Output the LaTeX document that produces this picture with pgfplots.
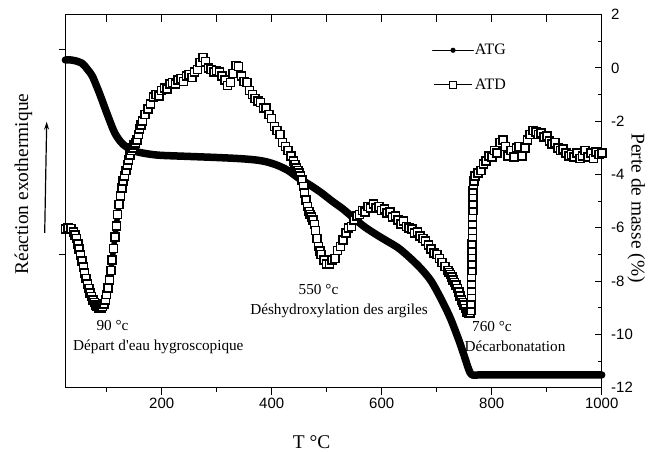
\documentclass[border=0pt]{standalone}
\usepackage{fontspec}
\setmainfont{Liberation Serif}
\setsansfont{Liberation Sans}
\usepackage{pgfplots}
\pgfplotsset{compat=1.18}
\usepackage{pgfplotstable}
\usetikzlibrary{arrows.meta}

\pgfplotstableread{
x y
25 0.30
35 0.30
45 0.26
55 0.18
60 0.08
65 -0.05
70 -0.18
75 -0.35
80 -0.60
85 -0.85
90 -1.12
95 -1.40
100 -1.68
105 -1.95
110 -2.22
115 -2.45
120 -2.62
125 -2.76
130 -2.87
135 -2.95
140 -3.02
150 -3.11
160 -3.17
180 -3.24
200 -3.28
250 -3.32
300 -3.36
340 -3.40
370 -3.45
390 -3.52
410 -3.65
430 -3.85
450 -4.15
470 -4.40
490 -4.68
510 -5.00
530 -5.30
550 -5.65
570 -5.98
590 -6.25
610 -6.50
630 -6.75
650 -7.10
670 -7.50
690 -8.00
710 -8.75
725 -9.40
740 -10.20
750 -10.80
758 -11.30
764 -11.52
780 -11.52
850 -11.52
1000 -11.52
}\atg

\pgfplotstableread{
x y
25 -6.05
30 -6.00
35 -6.02
40 -6.15
42.5 -6.27
45 -6.40
47.5 -6.60
50 -6.80
52.5 -7.02
55 -7.25
57.5 -7.48
60 -7.70
62.5 -7.90
65 -8.10
67.5 -8.28
70 -8.45
72.5 -8.58
75 -8.70
77.5 -8.80
80 -8.90
82.5 -8.95
85 -9.00
87.5 -9.02
90 -9.00
92.5 -8.95
95 -8.85
97.5 -8.70
100 -8.50
102.5 -8.25
105 -7.95
107.5 -7.60
110 -7.20
112.5 -6.78
115 -6.35
117.5 -5.92
120 -5.50
122.5 -5.12
125 -4.80
127.5 -4.50
130 -4.25
132.5 -4.05
135 -3.85
137.5 -3.65
140 -3.45
142.5 -3.27
145 -3.10
147.5 -3.00
150 -2.90
152.5 -2.82
155 -2.70
157.5 -2.50
160 -2.30
162.5 -2.15
165 -2.00
170 -1.75
175 -1.55
180 -1.35
185 -1.10
190 -1.00
195 -1.05
200 -0.85
205 -0.75
210 -0.80
215 -0.60
220 -0.55
225 -0.60
230 -0.45
235 -0.40
240 -0.50
245 -0.30
250 -0.25
255 -0.35
260 -0.15
265 -0.05
270 0.20
275 0.40
280 0.25
285 0.00
290 -0.05
295 -0.15
300 -0.10
305 -0.15
310 -0.30
315 -0.45
320 -0.65
325 -0.55
330 -0.20
335 0.10
340 0.05
345 -0.30
350 -0.50
355 -0.55
360 -0.85
365 -1.00
370 -1.15
375 -1.25
380 -1.30
385 -1.50
390 -1.50
395 -1.75
400 -1.90
405 -2.20
410 -2.35
415 -2.50
420 -2.80
425 -2.95
430 -3.10
435 -3.30
440 -3.50
442.5 -3.62
445 -3.75
447.5 -3.85
450 -3.95
452.5 -4.05
455 -4.20
457.5 -4.45
460 -4.70
462.5 -4.95
465 -5.20
467.5 -5.38
470 -5.50
472.5 -5.60
475 -5.70
477.5 -5.88
480 -6.10
482.5 -6.40
485 -6.70
487.5 -6.87
490 -7.00
495 -7.20
500 -7.35
505 -7.35
510 -7.20
515 -7.15
520 -6.85
525 -6.70
530 -6.45
535 -6.20
540 -6.00
545 -5.95
550 -5.70
555 -5.55
560 -5.50
565 -5.35
570 -5.40
575 -5.20
580 -5.25
585 -5.10
590 -5.25
595 -5.20
600 -5.35
605 -5.30
610 -5.45
615 -5.40
620 -5.60
625 -5.55
630 -5.70
635 -5.85
640 -5.75
645 -5.95
650 -6.00
655 -6.05
660 -6.20
665 -6.15
670 -6.30
675 -6.40
680 -6.50
685 -6.65
690 -6.80
695 -6.95
700 -7.00
705 -7.15
710 -7.30
715 -7.45
720 -7.60
722.5 -7.68
725 -7.75
727.5 -7.85
730 -7.95
732.5 -8.05
735 -8.15
737.5 -8.28
740 -8.40
742.5 -8.55
745 -8.70
747.5 -8.80
750 -8.90
752.5 -9.02
755 -9.15
757.5 -9.20
760 -9.20
762 -9.10
762.5 -8.85
763 -8.60
763 -8.35
763.3 -8.10
763.5 -7.85
763.7 -7.60
764 -7.35
764.2 -7.10
764.4 -6.85
764.6 -6.60
764.8 -6.35
765 -6.10
765.2 -5.85
765.4 -5.60
765.6 -5.35
765.8 -5.10
766 -4.85
766.3 -4.60
766.7 -4.40
767.3 -4.25
770 -4.05
775 -3.95
780 -3.85
785 -3.60
790 -3.50
795 -3.30
800 -3.35
805 -3.10
810 -3.20
815 -2.80
820 -2.70
825 -2.95
830 -3.30
835 -3.10
840 -3.35
845 -3.00
850 -2.95
855 -3.30
860 -3.00
865 -2.70
870 -2.50
875 -2.35
880 -2.40
885 -2.50
890 -2.45
895 -2.60
900 -2.55
905 -2.75
910 -2.85
915 -2.80
920 -3.00
925 -3.10
930 -3.05
935 -3.20
940 -3.30
945 -3.25
950 -3.35
955 -3.20
960 -3.40
965 -3.30
970 -3.10
975 -3.35
980 -3.20
985 -3.40
990 -3.15
995 -3.25
1000 -3.20
}\atd

\begin{document}
\begin{tikzpicture}
\path[use as bounding box] (-65.7bp,-64.3bp) rectangle (582.3bp,387.7bp);
\pgfplotsset{base/.style={
  scale only axis, width=536bp, height=373bp,
  xmin=25.5, xmax=1000, ymin=-12, ymax=2,
  at={(0bp,0bp)}, anchor=south west,
  axis line style={line width=1.2bp},
  major tick length=7bp, minor tick length=4bp,
  every tick/.style={black, line width=1bp},
  tick label style={font=\sffamily\fontsize{15}{15}\selectfont},
}}
% bottom ticks (outside)
\begin{axis}[base, tick align=outside,
  xtick={200,400,600,800,1000}, xticklabels={200,400,600,800,1000},
  minor xtick={100,300,500,700,900}, xtick pos=left, ytick=\empty]
\end{axis}
% left ticks (outside)
\begin{axis}[base, tick align=outside,
  ytick={0.7,-7}, yticklabels={}, ytick pos=left, xtick=\empty]
\end{axis}
% data, top and right ticks (inside)
\begin{axis}[base, tick align=inside, clip=false,
  xtick={100,200,...,900}, xticklabels={}, xtick pos=right,
  ytick={-12,-10,...,2}, yticklabels={-12,-10,-8,-6,-4,-2,0,2},
  minor ytick={-11,-9,...,1}, ytick pos=right, yticklabel pos=right,
  yticklabel style={xshift=6bp},
  legend style={at={(axis description cs:0.6834,0.924)}, anchor=north west,
    draw=none, fill=none, inner sep=0pt, row sep=20.5bp, column sep=0bp,
    font=\fontsize{16}{16}\selectfont, nodes={inner sep=1bp}},
  legend cell align=left]
\addplot[black, line width=7.5bp, line cap=round, line join=round, smooth,
  legend image code/.code={\draw[black, line width=0.7bp] (0bp,0bp) -- (41bp,0bp);
    \path[fill=black, draw=none] (20.5bp,0bp) circle (2.6bp);}] table {\atg};
\addlegendentry{ATG}
\addplot[black, line width=5.5bp, line join=round, forget plot] table {\atd};
\addplot[black, line width=0.8bp, mark=square*, mark size=4bp,
  mark options={fill=white, line width=1.6bp},
  legend image code/.code={\draw[black, line width=0.7bp] (1.5bp,0bp) -- (39bp,0bp);
    \draw[black, fill=white, line width=0.8bp] (17bp,-3.4bp) rectangle (23.8bp,3.4bp);}] table {\atd};
\addlegendentry{ATD}
\begin{scope}[every node/.style={font=\fontsize{15.3}{15.3}\selectfont, inner sep=0pt, anchor=base}]
\node at (axis cs:110.6,-9.84) {90 °c};
\node at (axis cs:193.9,-10.61) {Départ d\textquotesingle eau hygroscopique};
\node at (axis cs:485.1,-8.50) {550 °c};
\node at (axis cs:522.4,-9.25) {Déshydroxylation des argiles};
\node at (axis cs:800.5,-9.90) {760 °c};
\node at (axis cs:842.4,-10.65) {Décarbonatation};
\end{scope}
\end{axis}
\draw[-{Stealth[length=8bp,width=5bp]}, line width=1.2bp, black] (-21bp,154.7bp) -- (-19bp,266bp);
\node[font=\fontsize{19.5}{19.5}\selectfont, inner sep=0pt, anchor=base] at (246bp,-60.3bp) {T °C};
\node[font=\fontsize{19.5}{19.5}\selectfont, inner sep=0pt, rotate=90] at (-42.2bp,203.7bp) {Réaction exothermique};
\node[font=\fontsize{19.5}{19.5}\selectfont, inner sep=0pt, rotate=-90] at (570.5bp,179.7bp) {Perte de masse (\%)};
\end{tikzpicture}
\end{document}
